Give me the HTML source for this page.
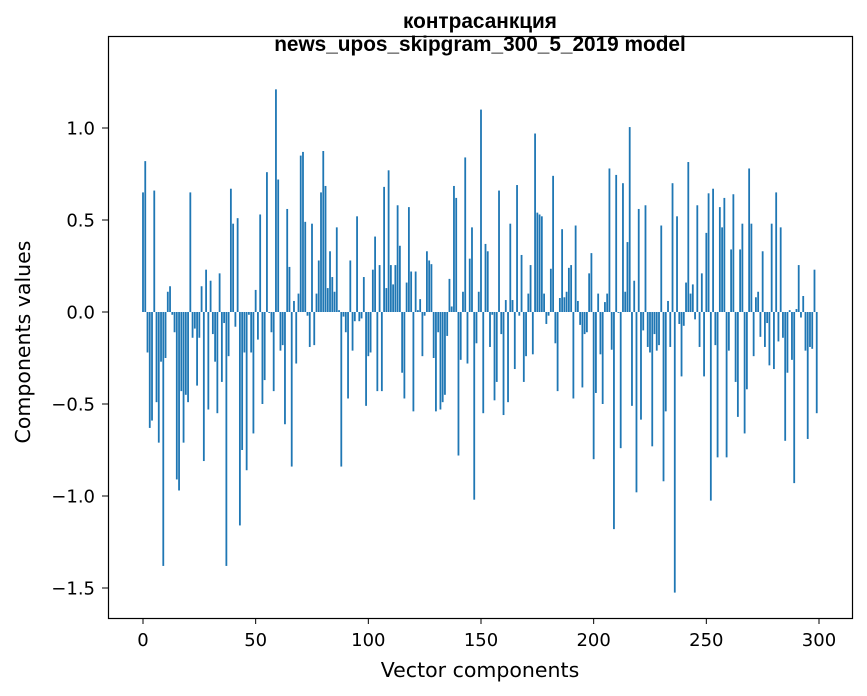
<!DOCTYPE html>
<html><head><meta charset="utf-8"><style>
body{margin:0;background:#fff;}
svg{display:block;font-family:"DejaVu Sans","Liberation Sans",sans-serif;}
</style></head><body>
<svg id="chart" width="867" height="696" viewBox="0 0 867 696">
<rect x="0" y="0" width="867" height="696" fill="#fff"/>
<text x="480" y="28" text-anchor="middle" font-size="20.8" font-weight="bold" font-family="Liberation Sans, sans-serif">контрасанкция</text>
<text x="480" y="51" text-anchor="middle" font-size="20.8" font-weight="bold" font-family="Liberation Sans, sans-serif">news_upos_skipgram_300_5_2019 model</text>
<g id="bars"></g>
<g id="xticks"></g>
<g id="yticks"></g>
<rect x="108.5" y="36.5" width="744" height="582" fill="none" stroke="#000" stroke-width="1.2"/>
<text x="480" y="677" text-anchor="middle" font-size="20.5">Vector components</text>
<text transform="translate(30,342) rotate(-90)" text-anchor="middle" font-size="20.5">Components values</text>
</svg>
<script>
const values = [
0.65,0.82,-0.22,-0.63,-0.59,0.66,-0.49,-0.71,-0.27,-1.38,
-0.25,0.11,0.14,-0.015,-0.11,-0.91,-0.97,-0.43,-0.71,-0.45,
-0.49,0.65,-0.14,-0.09,-0.40,-0.14,0.14,-0.81,0.23,-0.53,
0.17,-0.12,-0.27,-0.55,0.21,-0.38,-0.06,-1.38,-0.24,0.67,
0.48,-0.08,0.51,-1.16,-0.75,-0.22,-0.86,-0.015,-0.22,-0.66,
0.12,-0.15,0.53,-0.50,-0.37,0.76,-0.005,-0.11,-0.43,1.21,
0.72,-0.21,-0.18,-0.61,0.56,0.245,-0.84,0.06,-0.28,0.10,
0.85,0.87,0.49,-0.02,-0.19,0.48,-0.18,0.10,0.28,0.65,
0.875,0.685,0.13,0.33,0.19,0.11,0.46,0.01,-0.84,-0.025,
-0.11,-0.47,0.28,-0.21,-0.05,0.52,-0.05,-0.035,0.19,-0.51,
-0.24,-0.22,0.23,0.41,-0.43,0.255,-0.43,0.68,0.13,0.77,
0.255,0.15,0.255,0.58,0.36,-0.33,-0.47,0.16,0.57,0.22,
-0.54,0.22,0.01,0.07,-0.24,-0.02,0.33,0.28,0.26,-0.25,
-0.54,-0.11,-0.53,-0.49,-0.45,-0.13,0.18,0.03,0.685,0.62,
-0.78,-0.26,0.11,0.84,-0.28,0.29,0.46,-1.02,-0.17,0.11,
1.10,-0.55,0.37,0.33,-0.19,-0.015,-0.48,-0.38,0.66,-0.12,
-0.56,0.065,-0.49,0.48,0.065,-0.31,0.69,-0.02,0.31,-0.38,
-0.24,0.10,0.255,-0.23,0.97,0.54,0.53,0.52,0.10,-0.065,
-0.02,0.235,0.74,-0.17,-0.43,0.076,0.45,0.08,0.11,0.24,
0.255,-0.47,0.47,0.06,-0.07,-0.41,-0.12,-0.11,0.21,0.32,
-0.80,-0.44,0.10,-0.23,-0.50,0.054,0.10,0.78,-0.205,-1.18,
0.745,-0.005,-0.74,0.70,0.11,0.38,1.005,-0.51,0.17,-0.98,
0.56,-0.585,-0.10,0.58,-0.19,-0.22,-0.73,-0.12,-0.21,-0.18,
0.47,-0.92,-0.54,0.06,-0.19,0.70,-1.525,0.52,-0.065,-0.35,
-0.075,0.16,0.815,0.10,0.15,-0.04,0.58,-0.19,0.21,-0.35,
0.43,0.645,-1.025,0.67,-0.18,-0.79,0.57,0.46,0.62,-0.79,
-0.21,0.34,0.64,-0.38,-0.57,0.34,0.48,-0.66,-0.42,0.78,
0.48,-0.24,0.08,0.11,-0.135,0.33,-0.19,-0.06,-0.29,0.48,
-0.31,0.65,-0.16,0.46,-0.14,-0.70,-0.33,0.01,-0.26,-0.93,
0.016,0.255,-0.03,0.087,-0.21,-0.69,-0.19,-0.20,0.23,-0.55
];
const xTicks = [0,50,100,150,200,250,300];
const yTicks = [1.0,0.5,0.0,-0.5,-1.0,-1.5];
const yTickLabels = ["1.0","0.5","0.0","\u22120.5","\u22121.0","\u22121.5"];

const NS = "http://www.w3.org/2000/svg";
const X0 = 143, XS = 2.2533;
const Y0 = 312, YS = 184;
function xScale(v){ return X0 + v*XS; }
function yScale(v){ return Y0 - v*YS; }

const barsG = document.getElementById('bars');
values.forEach((v,i)=>{
  const r = document.createElementNS(NS,'rect');
  const y1 = yScale(Math.max(v,0)), y2 = yScale(Math.min(v,0));
  r.setAttribute('x', xScale(i-0.4));
  r.setAttribute('width', 0.8*XS);
  r.setAttribute('y', y1);
  r.setAttribute('height', Math.max(y2-y1,0.01));
  r.setAttribute('fill','#1f77b4');
  
  
  barsG.appendChild(r);
});

const xg = document.getElementById('xticks');
xTicks.forEach(t=>{
  const x = xScale(t);
  const l = document.createElementNS(NS,'line');
  l.setAttribute('x1',x);l.setAttribute('x2',x);l.setAttribute('y1',618);l.setAttribute('y2',624);
  l.setAttribute('stroke','#000');
  
  
  xg.appendChild(l);
  const tx = document.createElementNS(NS,'text');
  tx.setAttribute('x',x);tx.setAttribute('y',646);tx.setAttribute('text-anchor','middle');tx.setAttribute('font-size','18');
  tx.textContent = String(t);
  
  
  xg.appendChild(tx);
});
const yg = document.getElementById('yticks');
yTicks.forEach((t,k)=>{
  const y = yScale(t);
  const l = document.createElementNS(NS,'line');
  l.setAttribute('x1',102);l.setAttribute('x2',108);l.setAttribute('y1',y);l.setAttribute('y2',y);
  l.setAttribute('stroke','#000');
  
  
  yg.appendChild(l);
  const tx = document.createElementNS(NS,'text');
  tx.setAttribute('x',95);tx.setAttribute('y',y+6.5);tx.setAttribute('text-anchor','end');tx.setAttribute('font-size','18');
  tx.textContent = yTickLabels[k];
  
  
  yg.appendChild(tx);
});
</script>
</body></html>
